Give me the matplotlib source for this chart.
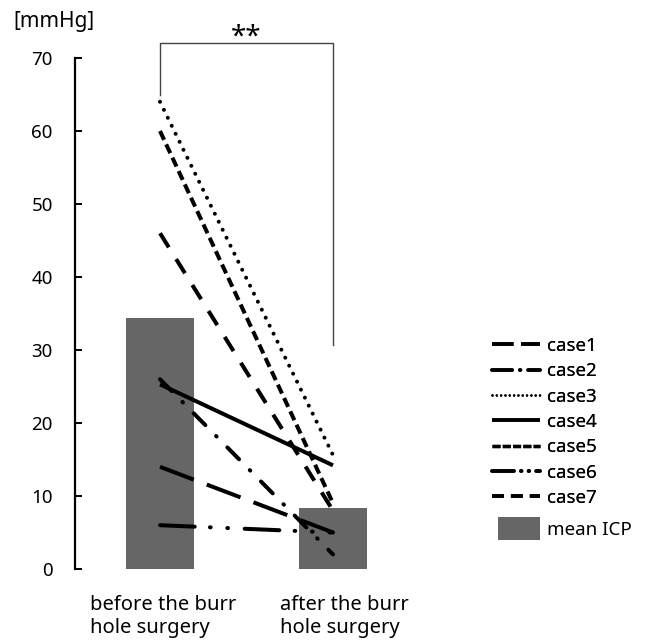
import matplotlib
matplotlib.use("Agg")
import matplotlib.pyplot as plt
from matplotlib.lines import Line2D
from matplotlib.patches import Patch

plt.rcParams['font.family'] = ['Noto Sans', 'DejaVu Sans']
plt.rcParams['lines.scale_dashes'] = False

# ---- data ----
categories = ["before the burr\nhole surgery", "after the burr\nhole surgery"]
case_names = ["case1", "case2", "case3", "case4", "case5", "case6", "case7"]
before_icp = [14, 26, 64, 25.3, 60, 6, 46]
after_icp = [5, 2, 15.6, 14.2, 9, 5, 8]
mean_icp = [34.4, 8.3]
mean_label = "mean ICP"
yticks = [0, 10, 20, 30, 40, 50, 60, 70]
significance = "**"
y_unit = "[mmHg]"

# ---- styles ----
dash_styles = [
    (0, (26, 10)),               # case1 long dash
    (0, (12, 11, 0.5, 11)),      # case2 long dash dot
    (0, (0.01, 6.4)),            # case3 round dot
    'solid',                     # case4
    (0, (7, 3.6)),               # case5 square dot
    (0, (25, 11, 0.5, 12, 0.5, 12)),  # case6 long dash dot dot
    (0, (12, 10)),               # case7 dash
]
legend_dashes = [
    (0, (15.5, 5.5)),
    (0, (14.5, 5.5, 0.5, 5.5)),
    (0, (0.01, 3.1)),
    'solid',
    (0, (5.8, 1.6)),
    (0, (15.8, 5, 0.5, 5, 0.5, 5)),
    (0, (8.6, 5)),
]
legend_lw = [2.6, 2.6, 1.8, 2.6, 2.4, 2.6, 2.6]
caps = ['butt', 'round', 'round', 'butt', 'butt', 'round', 'butt']

W, H = 654, 640
fig = plt.figure(figsize=(W / 100, H / 100), dpi=100)
left_px, right_px, top_px, bottom_px = 75, 420, 58, 569
ax = fig.add_axes([left_px / W, 1 - bottom_px / H,
                   (right_px - left_px) / W, (bottom_px - top_px) / H])

xpos = [0, 1]
px_per_unit = 173.0
ax.set_xlim(-(160 - left_px) / px_per_unit, (right_px - 160) / px_per_unit)
ax.set_ylim(0, 70)

bar_color = '#666666'
ax.bar(xpos, mean_icp, width=0.395, color=bar_color, zorder=1)

for i, name in enumerate(case_names):
    ax.plot(xpos, [before_icp[i], after_icp[i]], color='black',
            linewidth=2.9, linestyle=dash_styles[i],
            dash_capstyle=caps[i], solid_capstyle='butt', zorder=3)

# axes styling
for s in ['top', 'right', 'bottom']:
    ax.spines[s].set_visible(False)
ax.spines['left'].set_linewidth(1.6)
ax.set_yticks(yticks)
ax.tick_params(axis='y', direction='in', length=5, width=1.4, pad=16,
               labelsize=13.5)
ax.set_xticks([])

# category labels (left-aligned blocks)
xt = ax.get_xaxis_transform()
label_left = [(90 - 160) / px_per_unit, 1 + (280 - 333) / px_per_unit]
for xl, lab in zip(label_left, categories):
    ax.text(xl, -0.051, lab, transform=xt, ha='left', va='top',
            fontsize=14.5, linespacing=1.2)

# unit label
fig.text(13 / W, 1 - 22 / H, y_unit, ha='left', va='center', fontsize=15)

# significance bracket
bk_top = 72.05
ax.plot([0, 0, 1, 1], [64.9, bk_top, bk_top, 30.7], color='#444444',
        linewidth=1.0, clip_on=False, zorder=2)
ax.text(0.5, bk_top - 1.2, significance, ha='center', va='bottom',
        fontsize=20, clip_on=False)

# legends
fs = 13.5
proxies = [Line2D([], [], color='black', linewidth=legend_lw[i],
                  linestyle=legend_dashes[i], dash_capstyle=caps[i],
                  solid_capstyle='butt') for i in range(len(case_names))]
leg1 = fig.legend(handles=proxies, labels=case_names,
                  loc='upper left', bbox_to_anchor=(492 / W, 1 - 337 / H),
                  frameon=False, fontsize=fs, handlelength=2.56,
                  handletextpad=0.38, labelspacing=0.39, borderpad=0,
                  borderaxespad=0)
leg2 = fig.legend(handles=[Patch(facecolor=bar_color)], labels=[mean_label],
                  loc='upper left', bbox_to_anchor=(498 / W, 1 - 517 / H),
                  frameon=False, fontsize=fs, handlelength=2.24,
                  handleheight=1.5, handletextpad=0.38, borderpad=0,
                  borderaxespad=0)
fig.add_artist(leg1)

fig.savefig('out.png', dpi=100)
